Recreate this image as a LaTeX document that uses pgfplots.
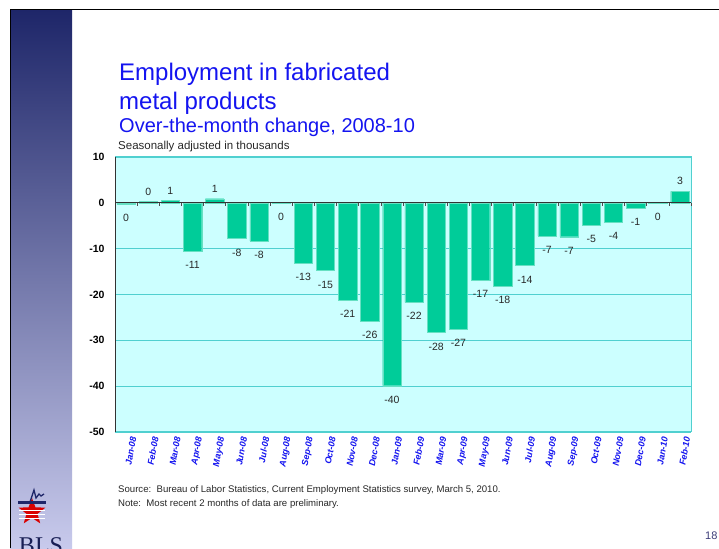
\documentclass[border=0pt]{standalone}
\usepackage{pgfplots}
\pgfplotsset{compat=1.18}
\usepackage{pgfplotstable}
\usetikzlibrary{shapes.geometric}
\usepackage{fontspec}
\setmainfont{Liberation Sans}
\newfontfamily\serifbls{Liberation Serif}
\definecolor{barc}{RGB}{0,204,153}
\definecolor{bgc}{RGB}{204,255,255}
\definecolor{gridc}{RGB}{80,208,208}
\definecolor{titlec}{RGB}{20,20,240}
\definecolor{navy}{RGB}{30,38,105}
\definecolor{lav}{RGB}{200,202,236}
\definecolor{txtc}{RGB}{40,40,40}
\definecolor{pgc}{RGB}{60,60,120}
\pgfplotstableread{
x val lbl
0 -0.3 0
1 0.3 0
2 0.5 1
3 -10.5 -11
4 0.9 1
5 -7.8 -8
6 -8.3 -8
7 -0.1 0
8 -13.1 -13
9 -14.8 -15
10 -21.2 -21
11 -25.8 -26
12 -39.9 -40
13 -21.7 -22
14 -28.3 -28
15 -27.5 -27
16 -16.8 -17
17 -18.2 -18
18 -13.7 -14
19 -7.2 -7
20 -7.4 -7
21 -4.8 -5
22 -4.2 -4
23 -1.2 -1
24 -0.1 0
25 2.5 3
}\datatable
\begin{document}
\begin{tikzpicture}
\useasboundingbox (0pt,0pt) rectangle (719pt,548pt);
\begin{scope}[x=1pt,y=1pt]
\fill[white] (0,0) rectangle (719,548);
% left band
\shade[top color=navy, bottom color=lav] (10,0) rectangle (72,538);
\draw[black, line width=1pt] (10,538) -- (719,538);
\draw[black, line width=0.8pt] (10,0) -- (10,538);
% logo
\node[star, star points=5, star point ratio=2.4, fill=red!85!black, minimum size=28pt, inner sep=0pt] at (32,36) {};
\foreach \yy in {30,34,38} \draw[white, line width=0.8pt] (19,\yy) -- (45,\yy);
\fill[navy] (18,44) -- (46,44) -- (46,46.5) -- (18,46.5) -- cycle;
\draw[navy, line width=1.3pt] (30,46) -- (34,58) -- (36,50) -- (39,54) -- (41,52) -- (44,54);
\node[anchor=north, font=\fontsize{24}{24}\selectfont\serifbls, text=navy!80!black, inner sep=0pt] at (41,11) {BLS};
% titles
\node[anchor=base west, inner sep=0pt, text=titlec, font=\fontsize{24}{24}\selectfont] at (119,467) {Employment in fabricated};
\node[anchor=base west, inner sep=0pt, text=titlec, font=\fontsize{24}{24}\selectfont] at (119,438) {metal products};
\node[anchor=base west, inner sep=0pt, text=titlec, font=\fontsize{20}{20}\selectfont] at (119,415) {Over-the-month change, 2008-10};
\node[anchor=base west, inner sep=0pt, text=txtc, font=\fontsize{11.5}{11.5}\selectfont] at (118,398) {Seasonally adjusted in thousands};
% footer
\node[anchor=base west, inner sep=0pt, text=txtc, font=\fontsize{9.6}{10}\selectfont] at (118,55) {Source:\ \ Bureau of Labor Statistics, Current Employment Statistics survey, March 5, 2010.};
\node[anchor=base west, inner sep=0pt, text=txtc, font=\fontsize{9.6}{10}\selectfont] at (118,41) {Note:\ \ Most recent 2 months of data are preliminary.};
\node[anchor=base west, inner sep=0pt, text=pgc, font=\fontsize{11}{11}\selectfont] at (705,9) {18};
\end{scope}
\begin{axis}[
  at={(115pt,116pt)}, anchor=south west,
  scale only axis, width=576pt, height=275pt,
  xmin=-0.5, xmax=25.5, ymin=-50, ymax=10,
  axis background/.style={fill=bgc},
  axis line style={gridc, line width=1pt},
  ytick={-50,-40,-30,-20,-10,0,10},
  ymajorgrids, grid style={gridc, line width=0.8pt},
  major tick length=0pt,
  yticklabel style={font=\fontsize{10.5}{10.5}\selectfont\bfseries, text=black, xshift=-7pt},
  /pgf/number format/assume math mode=true,
  xtick={0,...,25},
  xticklabels={Jan-08,Feb-08,Mar-08,Apr-08,May-08,Jun-08,Jul-08,Aug-08,Sep-08,Oct-08,Nov-08,Dec-08,Jan-09,Feb-09,Mar-09,Apr-09,May-09,Jun-09,Jul-09,Aug-09,Sep-09,Oct-09,Nov-09,Dec-09,Jan-10,Feb-10},
  xticklabel style={font=\fontsize{9}{9}\selectfont\bfseries\itshape, text=titlec, rotate=80, anchor=east, yshift=-8pt},
  ybar, bar width=18.4pt,
  clip=false,
]
\addplot[fill=barc, draw=barc!60!white, line width=0.4pt,
  visualization depends on={y \as \rawval},
  nodes near coords={\pgfplotspointmeta},
  point meta=explicit symbolic,
  every node near coord/.append style={font=\fontsize{10.5}{10.5}\selectfont, text=txtc, inner sep=0pt, anchor=center, yshift={(\rawval<0)*(-24pt)+10pt}},
] table[x=x, y=val, meta=lbl] {\datatable};
\draw[black!80, line width=0.9pt] (axis cs:-0.5,0) -- (axis cs:25.5,0);
\pgfplotsinvokeforeach{0,...,25}{\draw[black!70, line width=0.6pt] (axis cs:#1+0.5,0) -- ([yshift=-3pt]axis cs:#1+0.5,0);}
\draw[black!80, line width=0.9pt] (axis cs:-0.5,-50) -- (axis cs:-0.5,10);
\end{axis}
\end{tikzpicture}
\end{document}
